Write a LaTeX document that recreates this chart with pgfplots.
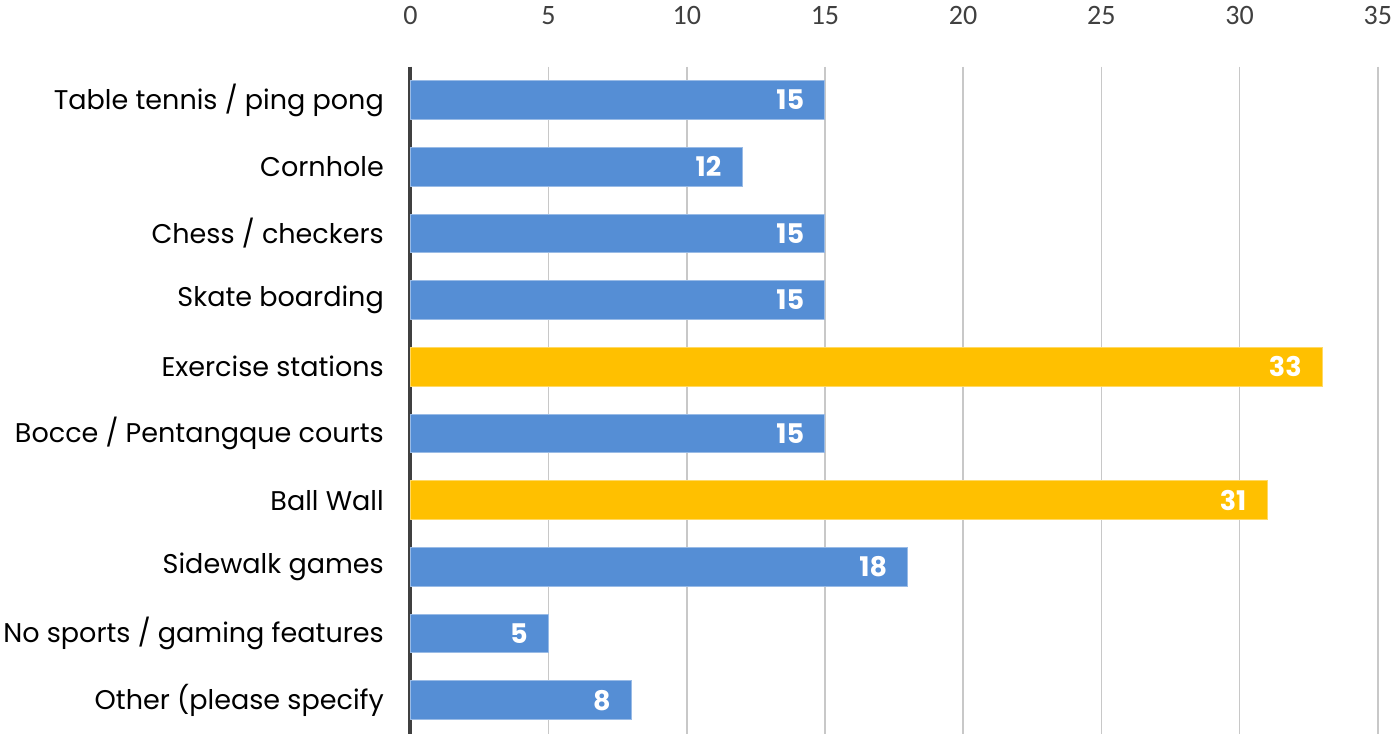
\documentclass[border=0pt]{standalone}
\usepackage{pgfplots}
\pgfplotsset{compat=1.18}
\usepackage{fontspec}
\setmainfont{Poppins}
\newfontfamily\tickfont{Carlito}
\definecolor{barblue}{HTML}{558ED5}
\definecolor{bargold}{HTML}{FFC000}
\definecolor{axisdark}{HTML}{404040}
\definecolor{gridgray}{HTML}{C8C8C8}
\begin{document}
\begin{tikzpicture}
\begin{axis}[
  scale only axis,
  width=966pt, height=666pt,
  xmin=0, xmax=35,
  ymin=-0.5, ymax=9.5,
  y dir=reverse,
  xtick={0,5,...,35},
  ytick={0,...,9},
  yticklabels={Table tennis / ping pong, Cornhole, Chess / checkers, Skate boarding, Exercise stations, Bocce / Pentangque courts, Ball Wall, Sidewalk games, No sports / gaming features, Other (please specify},
  xticklabel pos=upper,
  axis x line*=top,
  axis y line*=left,
  x axis line style={draw=none},
  y axis line style={draw=axisdark, line width=4pt},
  major tick length=0pt,
  xmajorgrids,
  major grid style={gridgray, line width=1.5pt},
  xticklabel style={font=\tickfont\fontsize{28}{30}\selectfont, text=axisdark, yshift=36pt, inner sep=6pt},
  /pgf/number format/assume math mode=true,
  yticklabel style={font=\fontsize{27}{29}\selectfont, text=black, xshift=-23pt},
  xbar,
  bar width=0.58,
  bar shift=0pt,
  nodes near coords,
  nodes near coords style={font=\bfseries\fontsize{27}{30}\selectfont, text=white, anchor=east, xshift=-17pt},
  clip=false,
]
\addplot[fill=barblue, draw=barblue!60!white, line width=1pt] coordinates {
  (15,0) (12,1) (15,2) (15,3) (15,5) (18,7) (5,8) (8,9)
};
\addplot[fill=bargold, draw=bargold!60!white, line width=1pt] coordinates {
  (33,4) (31,6)
};
\end{axis}
\end{tikzpicture}
\end{document}
